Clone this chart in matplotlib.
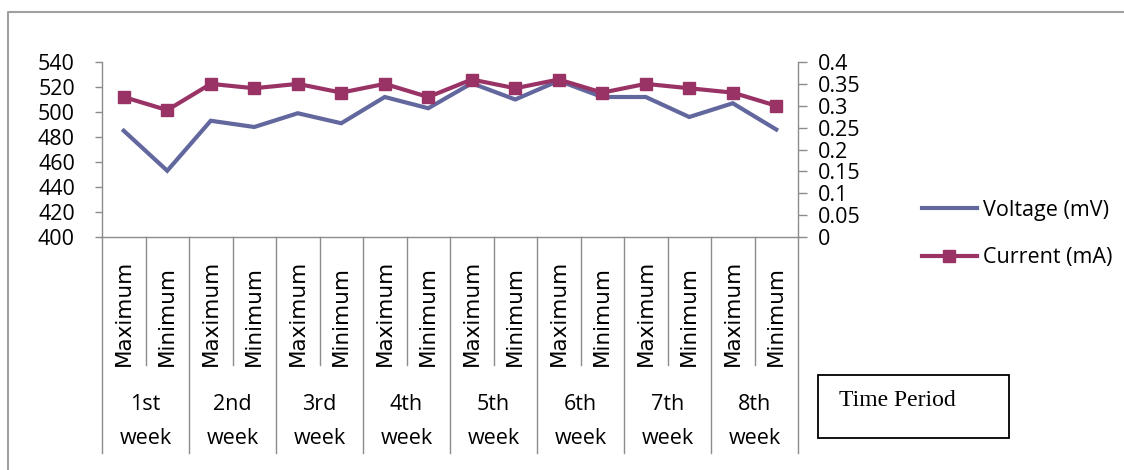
import matplotlib
matplotlib.use("Agg")
import matplotlib.pyplot as plt
import matplotlib.transforms as mtransforms
from matplotlib.lines import Line2D
from matplotlib.patches import Rectangle
from matplotlib.ticker import FuncFormatter

# --- data: weekly max/min readings ---
weeks = ["1st", "2nd", "3rd", "4th", "5th", "6th", "7th", "8th"]
periods = ["Maximum", "Minimum"] * len(weeks)
voltage_mv = [485, 453, 493, 488, 499, 491, 512, 503,
              523, 510, 525, 512, 512, 496, 507, 486]
current_ma = [0.32, 0.29, 0.35, 0.34, 0.35, 0.33, 0.35, 0.32,
              0.36, 0.34, 0.36, 0.33, 0.35, 0.34, 0.33, 0.30]
left_ticks = list(range(400, 541, 20))
right_ticks = [0, 0.05, 0.1, 0.15, 0.2, 0.25, 0.3, 0.35, 0.4]

plt.rcParams["font.family"] = "Open Sans"
W, H = 1124, 470
FS = 15.5
grey = "#8C8C8C"
volt_color = "#62679E"
curr_color = "#993366"

fig = plt.figure(figsize=(W / 100, H / 100), dpi=100)
ax = fig.add_axes([102 / W, 1 - 237 / H, 696 / W, 175 / H])
ax2 = ax.twinx()

x = list(range(len(periods)))
l1, = ax.plot(x, voltage_mv, color=volt_color, lw=3.0, solid_joinstyle="miter")
l2, = ax2.plot(x, current_ma, color=curr_color, lw=3.0, marker="s",
               markersize=8.5, solid_joinstyle="miter")

ax.set_xlim(-0.5, len(periods) - 0.5)
ax.set_ylim(400, 540)
ax.set_yticks(left_ticks)
ax2.set_ylim(0, 0.4)
ax2.set_yticks(right_ticks)
ax2.yaxis.set_major_formatter(FuncFormatter(lambda v, p: f"{round(v, 2):g}"))
ax.set_xticks([])

for a in (ax, ax2):
    a.spines["top"].set_visible(False)
    for s in a.spines.values():
        s.set_color(grey)
        s.set_linewidth(1.0)
ax2.spines["left"].set_visible(False)
ax2.spines["bottom"].set_visible(False)
ax.spines["right"].set_visible(False)
ax.tick_params(axis="y", length=5, width=1.0, color=grey, labelsize=FS, pad=14.5)
ax2.tick_params(axis="y", length=6.5, width=1.0, color=grey, labelsize=FS, pad=8)

# multi-level category axis below the plot
blend = mtransforms.blended_transform_factory(ax.transData, fig.transFigure)
for k in range(len(periods) + 1):
    bottom = 453 if k % 2 == 0 else 365
    ax.plot([k - 0.5, k - 0.5], [1 - 237 / H, 1 - bottom / H], transform=blend,
            clip_on=False, color=grey, lw=1.0)
for i, lab in enumerate(periods):
    ax.text(i, 1 - 366 / H, lab, transform=blend, rotation=90,
            ha="center", va="bottom", fontsize=15.5, family="DejaVu Sans")
for w, lab in enumerate(weeks):
    ax.text(2 * w + 0.5, 1 - 405 / H, lab, transform=blend,
            ha="center", va="center", fontsize=FS)
    ax.text(2 * w + 0.5, 1 - 439 / H, "week", transform=blend,
            ha="center", va="center", fontsize=FS)

fig.legend([l1, l2], ["Voltage (mV)", "Current (mA)"], loc="center left",
           bbox_to_anchor=(922 / W, 1 - 234 / H), bbox_transform=fig.transFigure,
           frameon=False, fontsize=FS, handlelength=2.55, handletextpad=0.28,
           labelspacing=1.25, borderpad=0, borderaxespad=0)

# axis title box
fig.add_artist(Rectangle((818 / W, 1 - 438 / H), 191 / W, 63 / H,
                         transform=fig.transFigure, fill=False,
                         edgecolor="black", lw=1.3))
fig.text(839 / W, 1 - 400 / H, "Time Period", family="Liberation Serif",
         fontsize=17, ha="left", va="center")

# chart area border
fig.add_artist(Line2D([8 / W, 8 / W, 1], [0, 1 - 12 / H, 1 - 12 / H],
                      transform=fig.transFigure, color="#A0A0A0", lw=1.5))

fig.savefig("out.png", dpi=100)
